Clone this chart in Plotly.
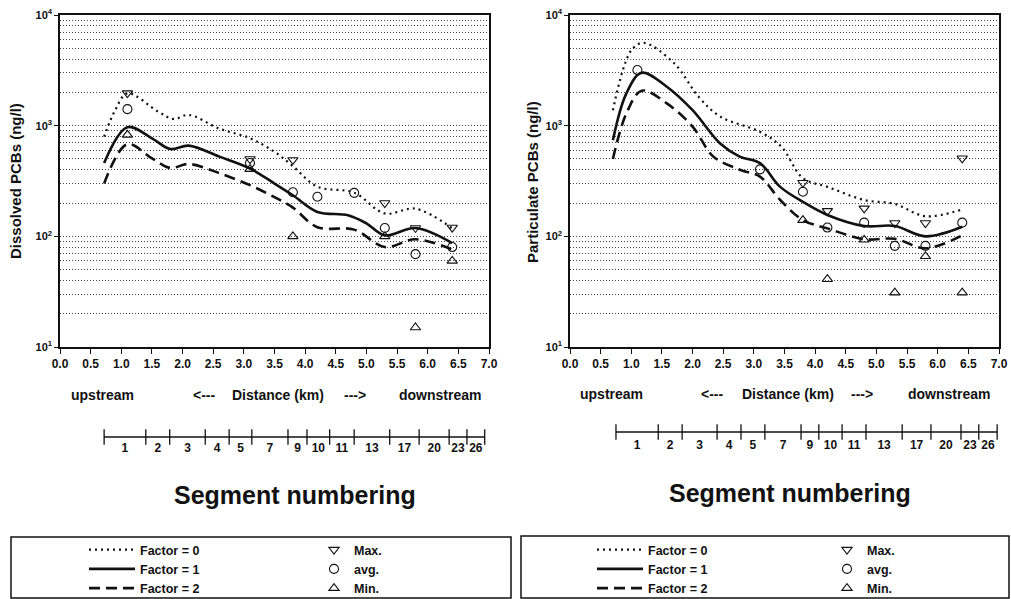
import plotly.graph_objects as go

W, H = 1011, 599

# ---------------- data ----------------
x_tick_vals = [0.0, 0.5, 1.0, 1.5, 2.0, 2.5, 3.0, 3.5, 4.0, 4.5, 5.0, 5.5, 6.0, 6.5, 7.0]
x_tick_text = ["0.0", "0.5", "1.0", "1.5", "2.0", "2.5", "3.0", "3.5", "4.0", "4.5",
               "5.0", "5.5", "6.0", "6.5", "7.0"]
y_tick_vals = [10, 100, 1000, 10000]
y_tick_text = ["10<sup>1</sup>", "10<sup>2</sup>", "10<sup>3</sup>", "10<sup>4</sup>"]

segment_labels = ["1", "2", "3", "4", "5", "7", "9", "10", "11", "13", "17", "20", "23", "26"]
seg_bounds_left = [0.72, 1.40, 1.79, 2.37, 2.76, 3.13, 3.72, 4.03, 4.40, 4.80, 5.38, 5.86, 6.35, 6.64, 6.93]
seg_bounds_right = [0.75, 1.44, 1.83, 2.40, 2.79, 3.18, 3.77, 4.06, 4.44, 4.83, 5.42, 5.89, 6.38, 6.67, 6.97]

# Dissolved PCBs (ng/l)
diss_max_x = [1.1, 3.1, 3.8, 5.3, 5.8, 6.4]
diss_max = [1970, 500, 490, 200, 119, 120]
diss_avg_x = [1.1, 3.1, 3.8, 4.2, 4.8, 5.3, 5.8, 6.4]
diss_avg = [1410, 460, 250, 228, 247, 119, 69, 80]
diss_min_x = [1.1, 3.1, 3.8, 5.3, 5.8, 6.4]
diss_min = [826, 405, 100, 100, 15, 60]

diss_f0_x = [0.72, 0.9, 1.1, 1.6, 1.85, 2.1, 2.6, 3.1, 3.5, 3.8, 4.2, 4.8, 5.3, 5.8, 6.4]
diss_f0 = [795, 1380, 1960, 1340, 1150, 1250, 940, 770, 580, 430, 281, 248, 161, 178, 118]
diss_f1_x = [0.72, 1.1, 1.5, 1.8, 2.1, 2.6, 3.1, 3.5, 3.8, 4.2, 4.7, 5.0, 5.3, 5.8, 6.4]
diss_f1 = [460, 970, 769, 615, 660, 525, 410, 300, 235, 166, 155, 131, 102, 119, 87]
diss_f2_x = [0.72, 1.1, 1.5, 1.8, 2.1, 2.6, 3.1, 3.5, 3.8, 4.2, 4.8, 5.3, 5.8, 6.4]
diss_f2 = [300, 680, 507, 415, 450, 372, 290, 226, 182, 121, 115, 80, 94, 76]

# Particulate PCBs (ng/l)
part_max_x = [3.8, 4.2, 4.8, 5.3, 5.8, 6.4]
part_max = [305, 170, 179, 132, 132, 507]
part_avg_x = [1.1, 3.1, 3.8, 4.2, 4.8, 5.3, 5.8, 6.4]
part_avg = [3180, 403, 253, 120, 133, 82, 82, 133]
part_min_x = [3.8, 4.2, 4.8, 5.3, 5.8, 6.4]
part_min = [140, 41, 93, 31, 66, 31]

part_f0_x = [0.7, 1.0, 1.2, 1.7, 2.1, 2.45, 3.1, 3.45, 3.8, 4.2, 4.8, 5.3, 5.8, 6.4]
part_f0 = [1380, 4800, 5600, 3660, 1820, 1210, 880, 645, 335, 280, 213, 196, 152, 175]
part_f1_x = [0.7, 0.92, 1.17, 1.58, 2.0, 2.45, 2.77, 3.1, 3.43, 3.8, 4.2, 4.8, 5.3, 5.8, 6.4]
part_f1 = [740, 1960, 3010, 2250, 1380, 690, 525, 458, 280, 205, 156, 124, 124, 100, 122]
part_f2_x = [0.7, 0.92, 1.17, 1.58, 2.0, 2.34, 2.77, 3.1, 3.43, 3.8, 4.2, 4.8, 5.3, 5.8, 6.4]
part_f2 = [500, 1290, 2070, 1590, 980, 525, 400, 346, 213, 140, 118, 94, 95, 78, 102]

# ---------------- helpers ----------------
FONT = "Liberation Sans, Arial, sans-serif"
BLACK = "#111111"


def px(p):
    return p / W


def py(p):
    return 1 - p / H


def midpoints(b):
    return [(b[i] + b[i + 1]) / 2 for i in range(len(b) - 1)]


line_styles = {
    "Factor = 0": dict(width=2.2, dash="2px,4px"),
    "Factor = 1": dict(width=2.6, dash="solid"),
    "Factor = 2": dict(width=2.6, dash="11px,6px"),
}
marker_styles = {
    "Max.": "triangle-down-open",
    "avg.": "circle-open",
    "Min.": "triangle-up-open",
}

fig = go.Figure()


def add_panel(xa, ya, lines, markers, leg_lines, leg_marks):
    for name, (xs, ys) in lines.items():
        st = line_styles[name]
        fig.add_trace(go.Scatter(
            x=xs, y=ys, mode="lines", name=name, xaxis=xa, yaxis=ya,
            line=dict(color=BLACK, width=st["width"], dash=st["dash"], shape="spline", smoothing=1.0),
            legend=leg_lines, hoverinfo="skip"))
    for name, (xs, ys) in markers.items():
        fig.add_trace(go.Scatter(
            x=xs, y=ys, mode="markers", name=name, xaxis=xa, yaxis=ya,
            marker=dict(symbol=marker_styles[name], size=9, color=BLACK, line=dict(width=1.1, color=BLACK)),
            legend=leg_marks, hoverinfo="skip"))


add_panel("x", "y",
          {"Factor = 0": (diss_f0_x, diss_f0), "Factor = 1": (diss_f1_x, diss_f1),
           "Factor = 2": (diss_f2_x, diss_f2)},
          {"Max.": (diss_max_x, diss_max), "avg.": (diss_avg_x, diss_avg), "Min.": (diss_min_x, diss_min)},
          "legend", "legend2")
add_panel("x2", "y2",
          {"Factor = 0": (part_f0_x, part_f0), "Factor = 1": (part_f1_x, part_f1),
           "Factor = 2": (part_f2_x, part_f2)},
          {"Max.": (part_max_x, part_max), "avg.": (part_avg_x, part_avg), "Min.": (part_min_x, part_min)},
          "legend3", "legend4")

# segment numbering scales
for xa, ya, bounds, lab_y in (("x3", "y3", seg_bounds_left, -0.62), ("x4", "y4", seg_bounds_right, -0.72)):
    fig.add_trace(go.Scatter(
        x=bounds, y=[0] * len(bounds), mode="lines+markers", xaxis=xa, yaxis=ya, showlegend=False,
        line=dict(color=BLACK, width=1.3),
        marker=dict(symbol="line-ns", size=11, color=BLACK, line=dict(width=1.3, color=BLACK)),
        hoverinfo="skip"))
    fig.add_trace(go.Scatter(
        x=midpoints(bounds), y=[lab_y] * (len(bounds) - 1), mode="text", text=segment_labels,
        xaxis=xa, yaxis=ya, showlegend=False,
        textfont=dict(family=FONT, size=12, color=BLACK, weight="bold"), hoverinfo="skip"))

# ---------------- axes ----------------
minor_vals = [d * 10 ** e for e in range(1, 4) for d in range(2, 10)]
tickfont = dict(family=FONT, size=12, color=BLACK, weight="bold")

main_x = dict(range=[0, 7], tickmode="array", tickvals=x_tick_vals, ticktext=x_tick_text,
              ticks="outside", ticklen=5, tickwidth=1.2, tickcolor=BLACK,
              showline=True, linecolor=BLACK, linewidth=1.5, mirror=True, automargin=False,
              showgrid=False, zeroline=False, tickfont=tickfont)
main_y = dict(type="log", range=[1, 4], tickmode="array", tickvals=y_tick_vals, ticktext=y_tick_text,
              ticks="outside", ticklen=4, tickwidth=1.2, tickcolor=BLACK, automargin=False,
              showline=True, linecolor=BLACK, linewidth=1.5, mirror=True,
              showgrid=True, gridcolor="#444444", gridwidth=1, griddash="1px,2px",
              minor=dict(tickvals=minor_vals, showgrid=True, gridcolor="#444444", gridwidth=1,
                         griddash="1px,2px", ticks=""),
              zeroline=False, tickfont=dict(family=FONT, size=11, color=BLACK, weight="bold"))
cross_x = dict(range=[0, 7], tickmode="array", tickvals=x_tick_vals, ticks="inside", ticklen=5,
               tickwidth=1.2, tickcolor=BLACK, showticklabels=False, showline=False,
               showgrid=False, zeroline=False, automargin=False)

ydom = [py(347), py(15)]
fig.update_layout(
    width=W, height=H, margin=dict(l=0, r=0, t=0, b=0, pad=0, autoexpand=False),
    paper_bgcolor="white", plot_bgcolor="white",
    xaxis=dict(domain=[px(60), px(489)], anchor="y", **main_x),
    yaxis=dict(domain=ydom, anchor="x", **main_y),
    xaxis2=dict(domain=[px(570), px(999)], anchor="y2", **main_x),
    yaxis2=dict(domain=ydom, anchor="x2", **main_y),
    xaxis3=dict(domain=[px(60), px(489)], range=[0, 7], anchor="y3", visible=False),
    yaxis3=dict(domain=[py(457), py(417)], range=[-1, 1], anchor="x3", visible=False),
    xaxis4=dict(domain=[px(570), px(999)], range=[0, 7], anchor="y4", visible=False),
    yaxis4=dict(domain=[py(452), py(412)], range=[-1, 1], anchor="x4", visible=False),
    xaxis5=dict(overlaying="x", anchor="y", **cross_x),
    xaxis6=dict(overlaying="x2", anchor="y2", **cross_x),
    showlegend=True,
)

leg_common = dict(font=dict(family=FONT, size=12.5, color=BLACK, weight="bold"),
                  bgcolor="rgba(0,0,0,0)", borderwidth=0, xanchor="left", yanchor="top",
                  traceorder="normal", tracegroupgap=0)
fig.update_layout(
    legend=dict(x=px(84), y=py(535), itemwidth=46, **leg_common),
    legend2=dict(x=px(314), y=py(535), itemwidth=30, **leg_common),
    legend3=dict(x=px(592), y=py(535), itemwidth=46, **leg_common),
    legend4=dict(x=px(827), y=py(535), itemwidth=30, **leg_common),
)

# ---------------- text ----------------
ann = []


def add_text(text, x, y, size, xref="paper", angle=0):
    ann.append(dict(text=text, x=x, y=y, xref=xref, yref="paper", showarrow=False,
                    xanchor="center", yanchor="middle", textangle=angle,
                    font=dict(family=FONT, size=size, color=BLACK, weight="bold")))


add_text("Dissolved PCBs (ng/l)", px(15), py(181), 15, angle=-90)
add_text("Particulate PCBs (ng/l)", px(532), py(182), 15, angle=-90)

for xr, yy, pos in (("x", py(395), [0.70, 2.35, 3.56, 4.81, 6.20]),
                    ("x2", py(394), [0.685, 2.32, 3.56, 4.76, 6.18])):
    for t, xv in zip(["upstream", "<---", "Distance (km)", "--->", "downstream"], pos):
        add_text(t, xv, yy, 14, xref=xr)

add_text("Segment numbering", px(295), py(495), 25)
add_text("Segment numbering", px(790), py(493), 25)

fig.update_layout(annotations=ann)

fig.update_layout(shapes=[
    dict(type="rect", xref="paper", yref="paper", x0=px(11), x1=px(511), y0=py(598), y1=py(537),
         line=dict(color=BLACK, width=1.5)),
    dict(type="rect", xref="paper", yref="paper", x0=px(521), x1=px(1009), y0=py(598), y1=py(536),
         line=dict(color=BLACK, width=1.5)),
])

fig.write_html("out.html")
